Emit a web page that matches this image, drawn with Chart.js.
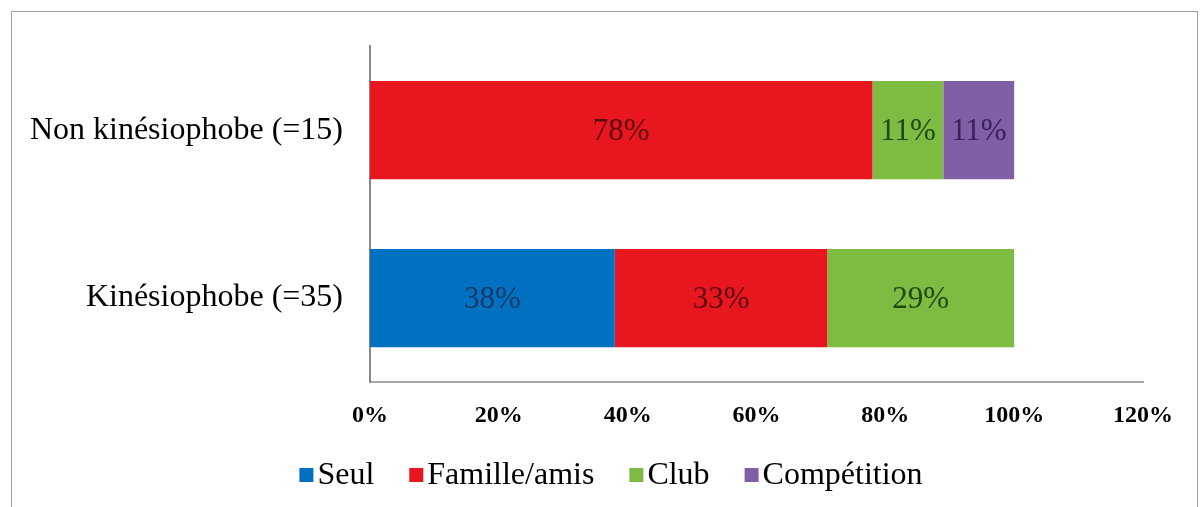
<!DOCTYPE html>
<html>
<head>
<meta charset="utf-8">
<script src="https://cdn.jsdelivr.net/npm/chart.js@4"></script>
<style>
  html, body { margin: 0; padding: 0; background: #fff; overflow: hidden; }
  #wrap { position: relative; width: 1202px; height: 507px; }
  #frame {
    position: absolute; left: 11px; top: 11px; width: 1187px; height: 520px;
    border: 1.5px solid #a0a0a0; box-sizing: border-box; pointer-events: none;
  }
</style>
</head>
<body>
<div id="wrap">
  <canvas id="chart" width="1202" height="507"></canvas>
  <div id="frame"></div>
</div>
<script>
const categories = ['Non kinésiophobe (=15)', 'Kinésiophobe (=35)'];
const seul = [0, 38];
const familleAmis = [78, 33];
const club = [11, 29];
const competition = [11, 0];
const xTicks = [0, 20, 40, 60, 80, 100, 120];

const serif = '"Liberation Serif", "Times New Roman", serif';

// libellés dans les barres
const barLabels = {
    id: 'barLabels',
    afterDatasetsDraw(chart) {
        const c = chart.ctx;
        c.save();
        c.font = '31px ' + serif;
        c.textAlign = 'center';
        c.textBaseline = 'middle';
        chart.data.datasets.forEach((ds, i) => {
            chart.getDatasetMeta(i).data.forEach((bar, j) => {
                const v = ds.data[j];
                if (!v) return;
                c.fillStyle = ds.labelColor;
                c.fillText(v + '%', (bar.x + bar.base) / 2, bar.y + 2);
            });
        });
        c.restore();
    }
};

// légende sous le graphique
const bottomLegend = {
    id: 'bottomLegend',
    afterDraw(chart) {
        const c = chart.ctx;
        c.save();
        c.font = '32px ' + serif;
        c.textBaseline = 'middle';
        const box = 14, gap = 4, space = 35;
        const items = chart.data.datasets.map(ds => ({
            text: ds.label, color: ds.backgroundColor, w: c.measureText(ds.label).width
        }));
        const total = items.reduce((s, it) => s + box + gap + it.w, 0) + space * (items.length - 1);
        let x = 611 - total / 2;
        const y = 475;
        items.forEach(it => {
            c.fillStyle = it.color;
            c.fillRect(x, y - box / 2, box, box);
            x += box + gap;
            c.fillStyle = '#000';
            c.fillText(it.text, x, y + 1);
            x += it.w + space;
        });
        c.restore();
    }
};

new Chart(document.getElementById('chart').getContext('2d'), {
    type: 'bar',
    data: {
        labels: categories,
        datasets: [
            { label: 'Seul', data: seul, backgroundColor: '#0070C0', labelColor: '#1c3866' },
            { label: 'Famille/amis', data: familleAmis, backgroundColor: '#E8161F', labelColor: '#5c0c0e' },
            { label: 'Club', data: club, backgroundColor: '#7DBB42', labelColor: '#1f4a12' },
            { label: 'Compétition', data: competition, backgroundColor: '#7F5FA6', labelColor: '#3a2056' }
        ]
    },
    options: {
        indexAxis: 'y',
        responsive: false,
        animation: false,
        barPercentage: 0.585,
        categoryPercentage: 1,
        layout: {
            padding: { top: 40, right: 59, bottom: 55, left: 0 }
        },
        scales: {
            x: {
                stacked: true,
                min: 0,
                max: 120,
                afterBuildTicks: (scale) => {
                    scale.ticks = xTicks.map(v => ({ value: v }));
                },
                afterFit: (scale) => { scale.height = 70; },
                grid: { display: false, drawTicks: false },
                border: { display: true, color: '#a8a8a8', width: 2 },
                ticks: {
                    padding: 19,
                    color: '#000',
                    font: { family: serif, size: 24, weight: 'bold' },
                    callback: (v) => v + '%'
                }
            },
            y: {
                stacked: true,
                afterFit: (scale) => { scale.width = 370; },
                grid: { display: false, drawTicks: false },
                border: { display: true, color: '#888', width: 2 },
                ticks: {
                    padding: 27,
                    color: '#000',
                    font: { family: serif, size: 32 }
                }
            }
        },
        plugins: {
            legend: { display: false },
            tooltip: { enabled: false }
        }
    },
    plugins: [barLabels, bottomLegend]
});
</script>
</body>
</html>
